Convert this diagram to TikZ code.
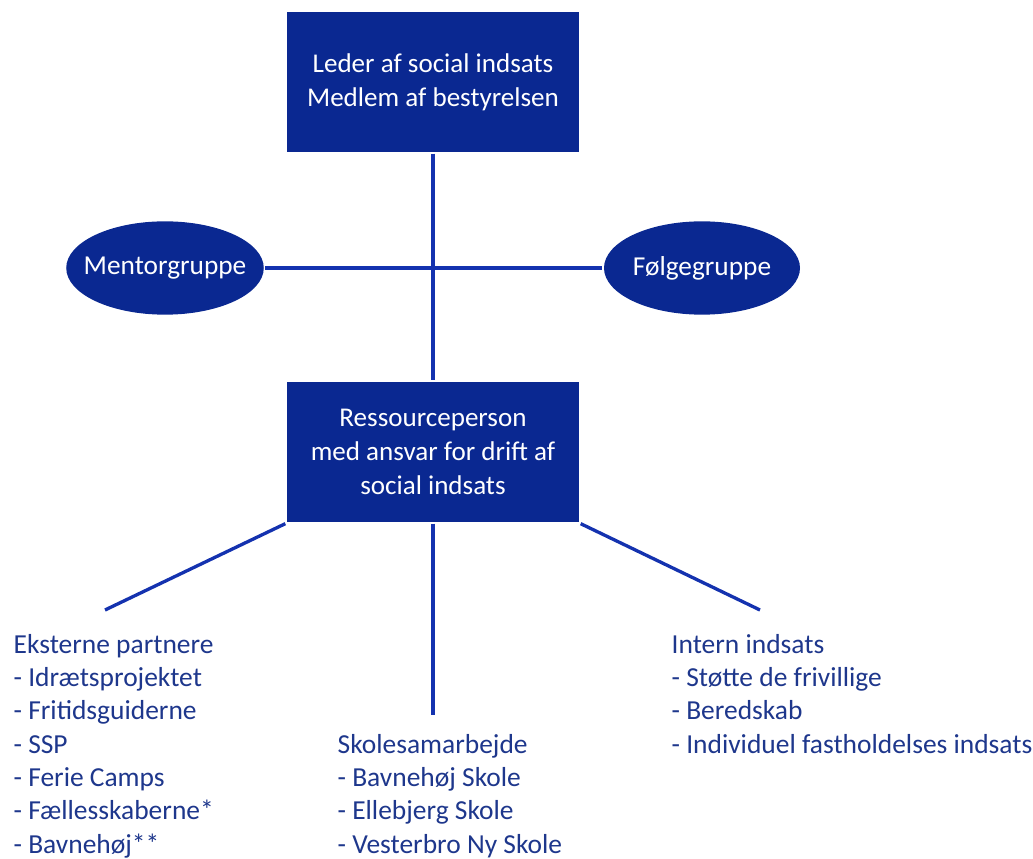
\documentclass[tikz,border=0pt]{standalone}
\usepackage{fontspec}
\setmainfont{Carlito}
\usepackage{xcolor}
\usetikzlibrary{shapes.geometric}
\definecolor{boxblue}{RGB}{10,40,145}
\definecolor{lineblue}{RGB}{20,50,175}
\definecolor{textblue}{RGB}{30,55,140}

\begin{document}
\begin{tikzpicture}[
    x=0.75pt, y=-0.75pt,
    line width=2.5pt,
    box/.style={fill=boxblue, text=white, align=center, inner sep=0pt,
      minimum width=219pt, minimum height=105pt,
      font=\fontsize{20.3}{25.5}\selectfont},
    group/.style={ellipse, fill=boxblue, text=white, inner ysep=0pt, inner xsep=-8.6pt,
      minimum width=147pt, minimum height=70pt,
      font=\fontsize{20.5}{25}\selectfont},
    list/.style={anchor=base west, align=left, text=textblue, inner sep=0pt,
      font=\fontsize{20.6}{25}\selectfont},
    link/.style={draw=lineblue}
  ]
  \useasboundingbox (0,0) rectangle (1033,859);

  \node[box] (leader) at (433,82) {Leder af social indsats\\Medlem af bestyrelsen};
  \node[group] (mentor) at (165,268) {Mentorgruppe};
  \node[group] (follow) at (702,268) {Følgegruppe};
  \node[box] (resource) at (433,452) {Ressourceperson\\med ansvar for drift af\\social indsats};

  \coordinate (extend) at (105,610);
  \coordinate (schoolend) at (433,715);
  \coordinate (internend) at (760,610);

  % lists are placed by the baseline of their last line
  \node[list] (external) at (12,853) {Eksterne partnere\\- Idrætsprojektet\\- Fritidsguiderne\\- SSP\\- Ferie Camps\\- Fællesskaberne*\\- Bavnehøj**};
  \node[list] (school) at (336,853) {Skolesamarbejde\\- Bavnehøj Skole\\- Ellebjerg Skole\\- Vesterbro Ny Skole};
  \node[list] (internal) at (670,753) {Intern indsats\\- Støtte de frivillige\\- Beredskab\\- Individuel fastholdelses indsats};

  \draw[link] (leader) -- (resource);
  \draw[link] (mentor) -- (follow);
  \draw[link] (resource.south west) -- (extend);
  \draw[link] (resource.south) -- (schoolend);
  \draw[link] (resource.south east) -- (internend);
\end{tikzpicture}
\end{document}
